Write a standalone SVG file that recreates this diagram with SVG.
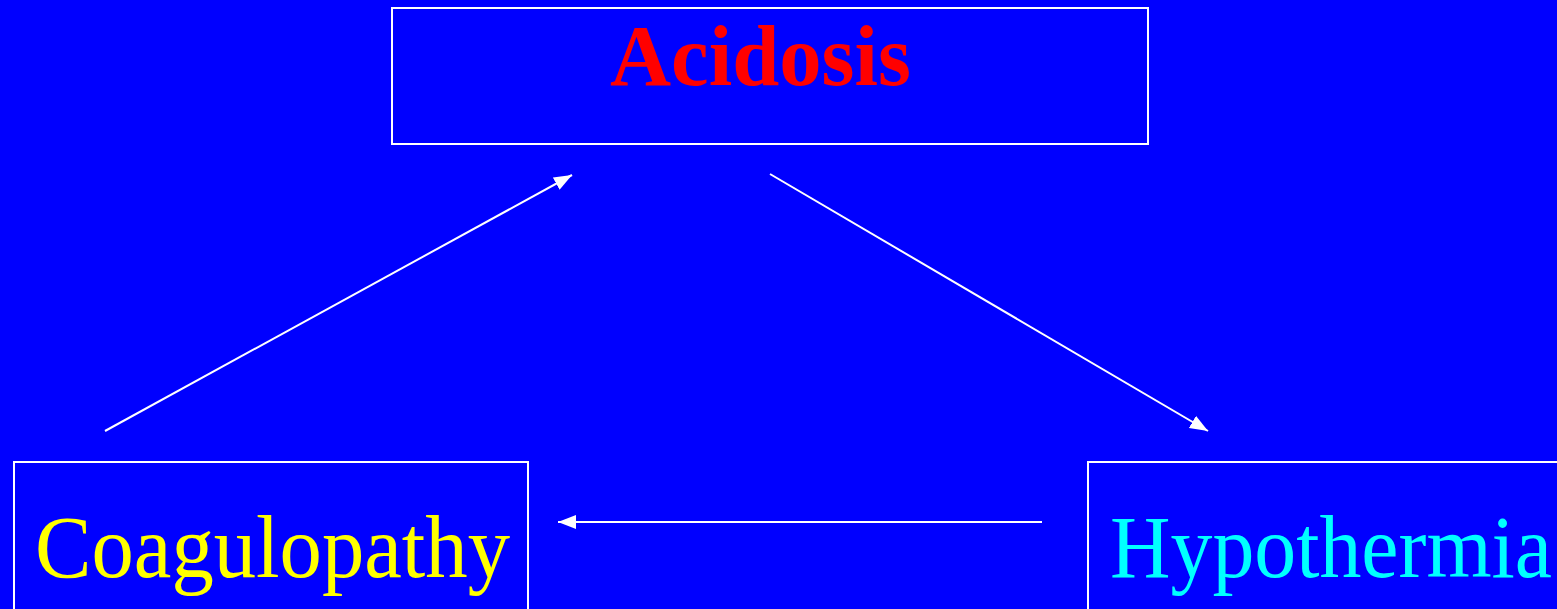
<svg xmlns="http://www.w3.org/2000/svg" width="1557" height="609" viewBox="0 0 1557 609">
<style>
.box{fill:none;stroke:#ffffff;stroke-width:2}
.conn{stroke:#ffffff;stroke-width:2;fill:none;marker-end:url(#ah)}
.t{font-family:"Liberation Serif","Times New Roman",serif}
</style>
<defs>
<marker id="ah" markerUnits="userSpaceOnUse" markerWidth="19" markerHeight="15" refX="18" refY="7" orient="auto" viewBox="0 0 19 15">
<path d="M0,0 L18,7 L0,14 z" fill="#ffffff"/>
</marker>
</defs>
<rect x="0" y="0" width="1557" height="609" fill="#0000ff"/>
<g id="acidosis">
<rect class="box" x="392" y="8" width="756" height="136"/>
<text class="t" x="610" y="85" font-size="87" font-weight="bold" fill="#ff0000" textLength="301" lengthAdjust="spacingAndGlyphs">Acidosis</text>
</g>
<g id="coagulopathy">
<rect class="box" x="14" y="462" width="514" height="160"/>
<text class="t" x="35" y="577" font-size="89" fill="#ffff00" textLength="475" lengthAdjust="spacingAndGlyphs">Coagulopathy</text>
</g>
<g id="hypothermia">
<rect class="box" x="1088" y="462" width="490" height="160"/>
<text class="t" x="1110" y="577" font-size="89" fill="#00ffff" textLength="442" lengthAdjust="spacingAndGlyphs">Hypothermia</text>
</g>
<g id="connectors">
<line class="conn" x1="105" y1="431" x2="572" y2="175"/>
<line class="conn" x1="770" y1="174" x2="1208" y2="431"/>
<line class="conn" x1="1042" y1="522" x2="558" y2="522"/>
</g>
</svg>
